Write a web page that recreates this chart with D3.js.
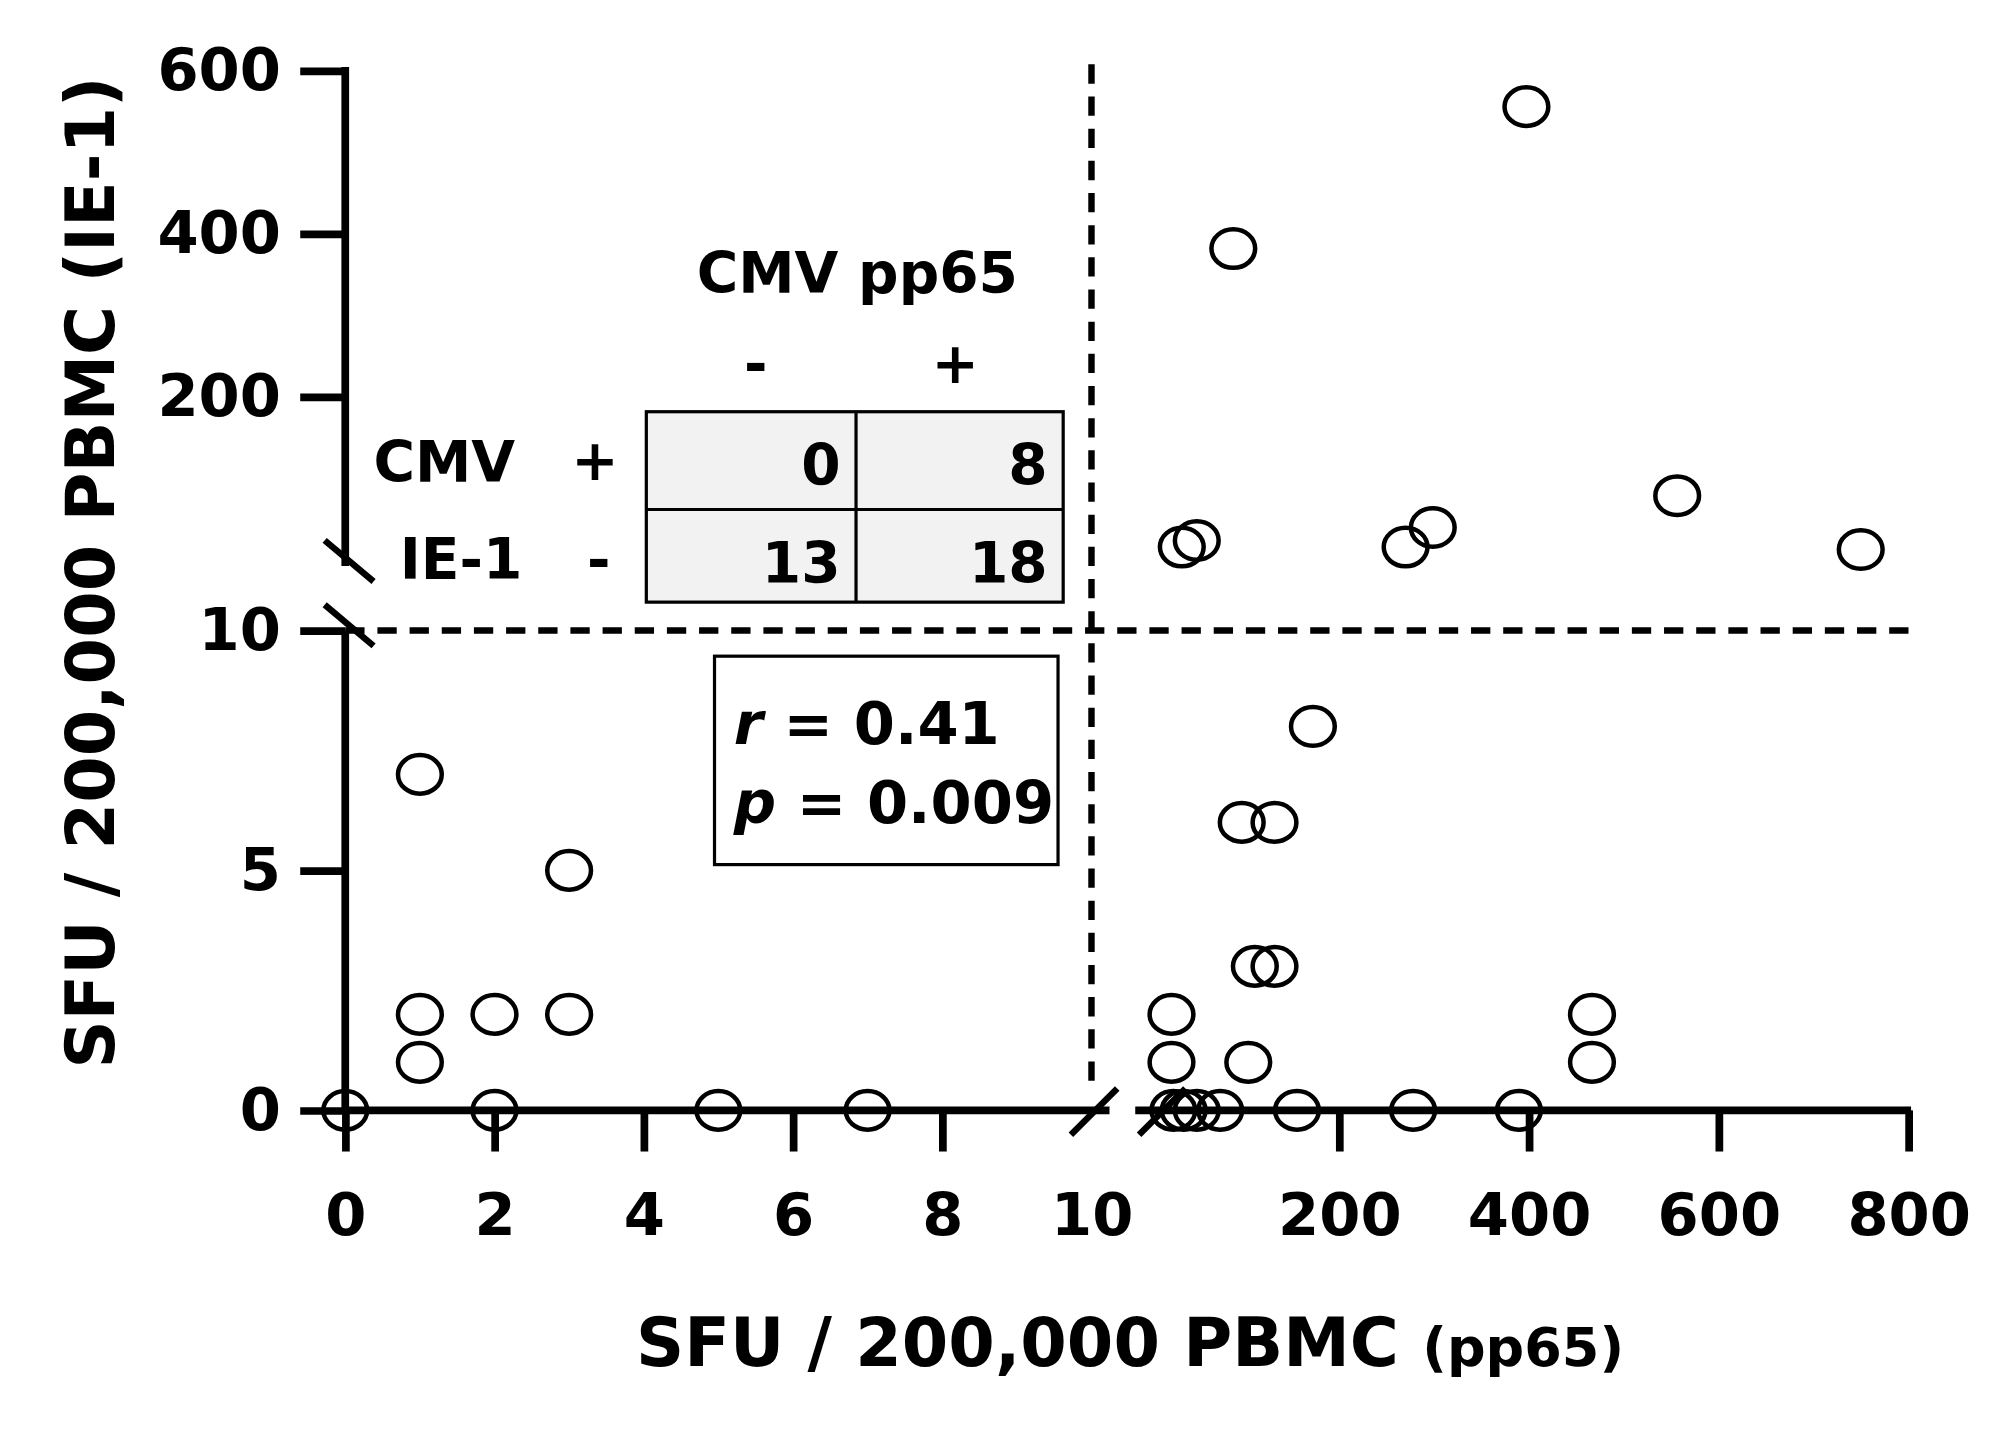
<!DOCTYPE html>
<html><head><meta charset="utf-8">
<script src="https://cdn.jsdelivr.net/npm/d3@7"></script>
<style>body{margin:0;background:#fff}text{font-family:"DejaVu Sans",Arial,sans-serif;font-weight:bold}</style>
</head><body><svg id="chart" width="2008" height="1432" viewBox="0 0 1560 1113"></svg>
<script>
// points: pp65 (x), IE-1 (y)
var ppVals = [0,1,1,1,2,2,3,3,5,7, 13,13,15,26,40,65,88,123,102,123,95,164,147,271,384,462,462, 24,40,79,263,292,392,553,749];
var ieVals = [0,7,2,1,2,0,5,2,0,0, 2,1,0,0,0,0,6,6,3,3,1,8,0,0,0,2,1, 16,24,382,16,40,556,79,13];
var xLowTicks = [0,2,4,6,8,10], xHighTicks = [200,400,600,800];
var yLowTicks = [0,5,10], yHighTicks = [200,400,600];
var tableCells = [["0","8"],["13","18"]];

var svg = d3.select('#chart');
var xLow = d3.scaleLinear().domain([0,10]).range([268,848]);
var xHigh = d3.scaleLinear().domain([10,800]).range([908,1483]);
var yLow = d3.scaleLinear().domain([0,10]).range([863,490]);
var yHigh = d3.scaleLinear().domain([10,600]).range([429,55]);
function px(v){ return v <= 10 ? xLow(v) : xHigh(v); }
function py(v){ return v <= 10 ? yLow(v) : yHigh(v); }

var line = function(x1,y1,x2,y2,w){ svg.append('line').attr('x1',x1).attr('y1',y1).attr('x2',x2).attr('y2',y2).attr('stroke','#000').attr('stroke-width',w||6); };

// dashed lines
svg.append('line').attr('x1',xLow(10)).attr('x2',xLow(10)).attr('y1',50).attr('y2',850)
  .attr('stroke','#000').attr('stroke-width',5).attr('stroke-dasharray','15,10');
svg.append('line').attr('x1',268).attr('x2',1490).attr('y1',yLow(10)).attr('y2',yLow(10))
  .attr('stroke','#000').attr('stroke-width',5).attr('stroke-dasharray','15,10');

// axes
var gxl = svg.append('g').attr('transform','translate(0,863)').call(d3.axisBottom(xLow).tickValues(xLowTicks).tickSize(32).tickSizeOuter(0));
var gxh = svg.append('g').attr('transform','translate(0,863)').call(d3.axisBottom(d3.scaleLinear().domain([0,800]).range([893,1483])).tickValues(xHighTicks).tickSize(32).tickSizeOuter(0));
var gyl = svg.append('g').attr('transform','translate(268,0)').call(d3.axisLeft(yLow).tickValues(yLowTicks).tickSize(35).tickSizeOuter(0));
var gyh = svg.append('g').attr('transform','translate(268,0)').call(d3.axisLeft(d3.scaleLinear().domain([0,600]).range([435,55])).tickValues(yHighTicks).tickSize(35).tickSizeOuter(0));
[gxl,gxh,gyl,gyh].forEach(function(g){
  g.select('.domain').remove();
  g.selectAll('.tick line').attr('stroke-width',6);
  g.selectAll('.tick text').style('font-size','46px').style('font-family','"DejaVu Sans",Arial,sans-serif').style('font-weight','bold');
});
gxl.selectAll('.tick text').attr('y',64);
gxh.selectAll('.tick text').attr('y',64);
gxl.selectAll('.tick').filter(function(d){return d===10;}).select('line').remove();
gyl.selectAll('.tick text').attr('x',-50);
gyh.selectAll('.tick text').attr('x',-50);
line(268,863,862,863); line(882,863,1485,863);
line(268,490,268,863); line(268,52,268,440);
// break marks
line(832,882,868,846,5); line(885,882,921,846,5);
line(252,420,290,452,5); line(252,470,290,502,5);

// points
svg.selectAll('ellipse.pt').data(ppVals).enter().append('ellipse').attr('class','pt')
  .attr('cx',function(d){return px(d);}).attr('cy',function(d,i){return py(ieVals[i]);})
  .attr('rx',17).attr('ry',15).attr('fill','none').attr('stroke','#000').attr('stroke-width',3.5);

// table
var tx = [502,665,826], ty = [320,396,468];
svg.append('rect').attr('x',tx[0]).attr('y',ty[0]).attr('width',tx[2]-tx[0]).attr('height',ty[2]-ty[0]).attr('fill','#f2f2f2').attr('stroke','#000').attr('stroke-width',2.5);
line(tx[1],ty[0],tx[1],ty[2],2.5); line(tx[0],ty[1],tx[2],ty[1],2.5);
tableCells.forEach(function(row,r){ row.forEach(function(c,k){
  svg.append('text').attr('x',tx[k+1]-12).attr('y',ty[r]+57).attr('text-anchor','end').style('font-size','44px').text(c);
});});
function txt(x,y,s,t,anchor){ return svg.append('text').attr('x',x).attr('y',y).attr('text-anchor',anchor||'middle').style('font-size',s+'px').text(t); }
txt(666,228,44,'CMV pp65');
txt(587,298,44,'-'); txt(742,298,44,'+');
txt(345,375,44,'CMV'); txt(462,373,44,'+');
txt(358,450,44,'IE-1'); txt(465,450,44,'-');

// stats box
svg.append('rect').attr('x',555).attr('y',510).attr('width',267).attr('height',162).attr('fill','#fff').attr('stroke','#000').attr('stroke-width',2.5);
var t1 = svg.append('text').attr('x',570).attr('y',578).style('font-size','46px');
t1.append('tspan').style('font-style','italic').text('r'); t1.append('tspan').text(' = 0.41');
var t2 = svg.append('text').attr('x',570).attr('y',640).style('font-size','46px');
t2.append('tspan').style('font-style','italic').text('p'); t2.append('tspan').text(' = 0.009');

// axis titles
var xt = svg.append('text').attr('x',878).attr('y',1062).attr('text-anchor','middle').style('font-size','52px');
xt.append('tspan').text('SFU / 200,000 PBMC '); xt.append('tspan').style('font-size','42px').text('(pp65)');
txt(0,0,52,'SFU / 200,000 PBMC (IE-1)').attr('transform','translate(88,445) rotate(-90)');
</script></body></html>
